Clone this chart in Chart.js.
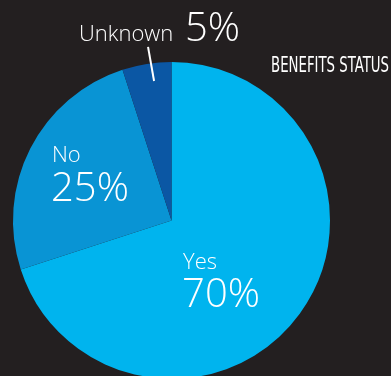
<!DOCTYPE html>
<html lang="en">
<head>
  <meta charset="UTF-8" />
  <title>Benefits Status</title>
  <script src="https://cdn.jsdelivr.net/npm/chart.js@4.4.0/dist/chart.umd.min.js"></script>
  <style>
    html, body {
      margin: 0;
      padding: 0;
      background: #231f20;
      overflow: hidden;
    }
    #chart-container {
      position: relative;
      width: 391px;
      height: 400px;
    }
  </style>
</head>
<body>
  <div id="chart-container">
    <canvas id="benefitsChart"></canvas>
  </div>

  <script>
    const categories = ['Yes', 'No', 'Unknown'];
    const shares = [70, 25, 5];
    const sliceColors = ['#00b4ee', '#0994d4', '#0b57a4'];
    const chartTitle = 'BENEFITS STATUS';

    // label anchors, as fractions of the pie radius from its centre
    const labelSpots = {
      Yes:     { x: 0.073, px: 0.067, name: 0.306, pct: 0.546 },
      No:      { x: -0.754, px: -0.760, name: -0.369, pct: -0.123 },
      Unknown: { x: -0.584, px: 0.085, name: -1.133, pct: -1.133 }
    };

    const labelPlugin = {
      id: 'sliceLabels',
      afterDraw(chart) {
        const ctx = chart.ctx;
        const arc = chart.getDatasetMeta(0).data[0];
        const cx = arc.x, cy = arc.y, r = arc.outerRadius;
        ctx.save();
        ctx.fillStyle = '#ffffff';
        ctx.textBaseline = 'alphabetic';
        ctx.textAlign = 'left';

        categories.forEach((name, i) => {
          const s = labelSpots[name];
          ctx.font = '300 22px "Open Sans"';
          ctx.fillText(name, cx + s.x * r, cy + s.name * r);
          ctx.font = '300 40px "Open Sans"';
          ctx.fillText(shares[i] + '%', cx + s.px * r, cy + s.pct * r);
        });

        // leader line from the Unknown label into its slice
        ctx.strokeStyle = '#ffffff';
        ctx.lineWidth = 2;
        ctx.beginPath();
        ctx.moveTo(cx - 0.148 * r, cy - 1.095 * r);
        ctx.lineTo(cx - 0.110 * r, cy - 0.880 * r);
        ctx.stroke();

        // title on the right
        ctx.font = '500 22px "DejaVu Sans Condensed", "Liberation Sans Narrow", sans-serif';
        ctx.fillText(chartTitle, 271, 72, 118);
        ctx.restore();
      }
    };

    new Chart(document.getElementById('benefitsChart'), {
      type: 'pie',
      data: {
        labels: categories,
        datasets: [{
          data: shares,
          backgroundColor: sliceColors,
          borderWidth: 0
        }]
      },
      options: {
        responsive: true,
        maintainAspectRatio: false,
        animation: false,
        layout: { padding: { left: 13, right: 61, top: 62, bottom: 21 } },
        plugins: {
          legend: { display: false },
          tooltip: { enabled: false }
        }
      },
      plugins: [labelPlugin]
    });
  </script>
</body>
</html>
